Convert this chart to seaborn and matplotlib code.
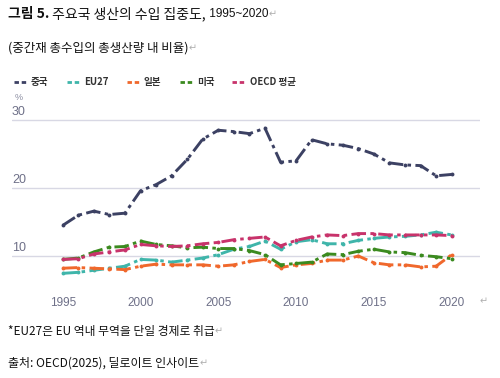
import pandas as pd
import matplotlib.pyplot as plt
import seaborn as sns
from matplotlib.lines import Line2D

years = list(range(1995, 2021))
china = [14.5, 16.0, 16.6, 16.1, 16.3, 19.6, 20.5, 21.8, 24.2, 27.2, 28.5, 28.3, 28.0,
         28.8, 23.8, 24.0, 27.1, 26.5, 26.3, 25.8, 25.0, 23.7, 23.4, 23.3, 21.8, 22.0]
eu27 = [7.45, 7.6, 7.9, 8.2, 8.5, 9.5, 9.4, 9.1, 9.4, 9.7, 10.2, 11.0, 11.4,
        12.2, 11.0, 12.1, 12.4, 11.8, 11.8, 12.3, 12.6, 12.8, 12.9, 13.1, 13.5, 13.1]
japan = [8.2, 8.3, 8.2, 8.1, 8.0, 8.5, 8.8, 8.7, 8.7, 8.7, 8.5, 8.7, 9.2,
         9.5, 8.3, 8.7, 8.9, 9.4, 9.4, 10.0, 9.0, 8.7, 8.7, 8.4, 8.5, 10.2]
usa = [9.5, 9.7, 10.6, 11.3, 11.4, 12.2, 11.7, 11.5, 11.2, 11.3, 11.1, 11.1, 10.8,
       10.2, 8.7, 8.9, 9.1, 10.3, 10.2, 10.7, 11.0, 10.6, 10.5, 10.1, 9.9, 9.6]
oecd = [9.5, 9.6, 10.3, 10.6, 10.9, 11.7, 11.5, 11.4, 11.5, 11.8, 12.0, 12.4, 12.6,
        12.8, 11.5, 12.3, 12.8, 13.1, 13.0, 13.3, 13.3, 13.1, 13.1, 13.1, 13.1, 13.0]

names = ["중국", "EU27", "일본", "미국", "OECD 평균"]
colors = ["#3c4163", "#3fb5aa", "#f0682c", "#3b8a1f", "#c8336b"]
yticks = [10, 20, 30]
xticks = [1995, 2000, 2005, 2010, 2015, 2020]

df = pd.DataFrame({"year": years, "중국": china, "EU27": eu27, "일본": japan,
                   "미국": usa, "OECD 평균": oecd})
long = df.melt(id_vars="year", var_name="country", value_name="value")

sns.set_style("white")
plt.rcParams["font.family"] = ["Noto Sans CJK KR", "DejaVu Sans"]

fig = plt.figure(figsize=(5, 3.78), dpi=100)
ax = fig.add_axes([0.024, 0.2328, 0.936, 0.455])

dash = (0, (5, 1.5, 1.2, 1.5))
for name, col in zip(names, colors):
    sub = long[long["country"] == name]
    sns.lineplot(data=sub, x="year", y="value", ax=ax, color=col, lw=2.1,
                 marker="o", markersize=2.8, markeredgewidth=0, legend=False)
for line in ax.get_lines():
    line.set_linestyle(dash)

ax.set_xlim(1991.74, 2021.82)
ax.set_ylim(5, 30.3)
ax.set_yticks(yticks)
ax.set_yticklabels([])
ax.tick_params(axis="y", length=0)
ax.set_xticks(xticks)
ax.set_xticklabels([str(x) for x in xticks], fontsize=8.5, color="#6e7088",
                   family=["Liberation Sans"])
ax.tick_params(axis="x", length=0, pad=5)
ax.grid(axis="y", color="#d8d8e4", lw=1)
ax.set_axisbelow(True)
for s in ax.spines.values():
    s.set_visible(False)
ax.set_xlabel("")
ax.set_ylabel("")

for v in yticks:
    ax.text(0, v + 0.25, str(v), transform=ax.get_yaxis_transform(), fontsize=9,
            color="#6e7088", ha="left", va="bottom", family=["Liberation Sans"])
fig.text(15 / 500, 1 - 98 / 378, "%", fontsize=6.5, color="#8a8ca0", ha="left",
         va="center", family=["Liberation Sans"])
fig.text(0.96, 1 - 301 / 378, "↵", fontsize=7, color="#b0b0b0", va="center")

# legend
handles = [Line2D([0], [0], color=c, lw=2, linestyle=(0, (1.6, 1.0))) for c in colors]
leg = fig.legend(handles, names, loc="center left", bbox_to_anchor=(0.01, 1 - 82 / 378),
                 ncol=5, frameon=False, handlelength=1.3, handletextpad=0.5,
                 columnspacing=1.9, prop={"size": 6.9, "weight": "bold"})
for t in leg.get_texts():
    t.set_color("#333333")

# title block
t1 = fig.text(8 / 500, 1 - 14 / 378, "그림 5.", fontsize=10, weight="bold",
              color="#111111", va="center", ha="left")
a2 = plt.annotate(" 주요국 생산의 수입 집중도,", xy=(1, 0.5), xycoords=t1,
                  va="center", ha="left", fontsize=10, color="#111111",
                  annotation_clip=False)
a3 = plt.annotate(" 1995~2020", xy=(1, 0.5), xycoords=a2, va="center", ha="left",
                  fontsize=8.5, color="#111111", family=["Liberation Sans"],
                  annotation_clip=False)
plt.annotate("↵", xy=(1, 0.5), xycoords=a3, va="center", ha="left", fontsize=7,
             color="#b0b0b0", annotation_clip=False)

s1 = fig.text(8 / 500, 1 - 48 / 378, "(중간재 총수입의 총생산량 내 비율)", fontsize=9,
              color="#111111", va="center", ha="left")
plt.annotate("↵", xy=(1, 0.5), xycoords=s1, va="center", ha="left", fontsize=7,
             color="#b0b0b0", annotation_clip=False)

f1 = fig.text(8 / 500, 1 - 331 / 378, "*EU27은 EU 역내 무역을 단일 경제로 취급", fontsize=8.5,
              color="#111111", va="center", ha="left")
plt.annotate("↵", xy=(1, 0.5), xycoords=f1, va="center", ha="left", fontsize=7,
             color="#b0b0b0", annotation_clip=False)
f2 = fig.text(8 / 500, 1 - 363 / 378, "출처: OECD(2025), 딜로이트 인사이트", fontsize=8.6,
              color="#111111", va="center", ha="left")
plt.annotate("↵", xy=(1, 0.5), xycoords=f2, va="center", ha="left", fontsize=7,
             color="#b0b0b0", annotation_clip=False)

fig.savefig("out.png", dpi=100)
